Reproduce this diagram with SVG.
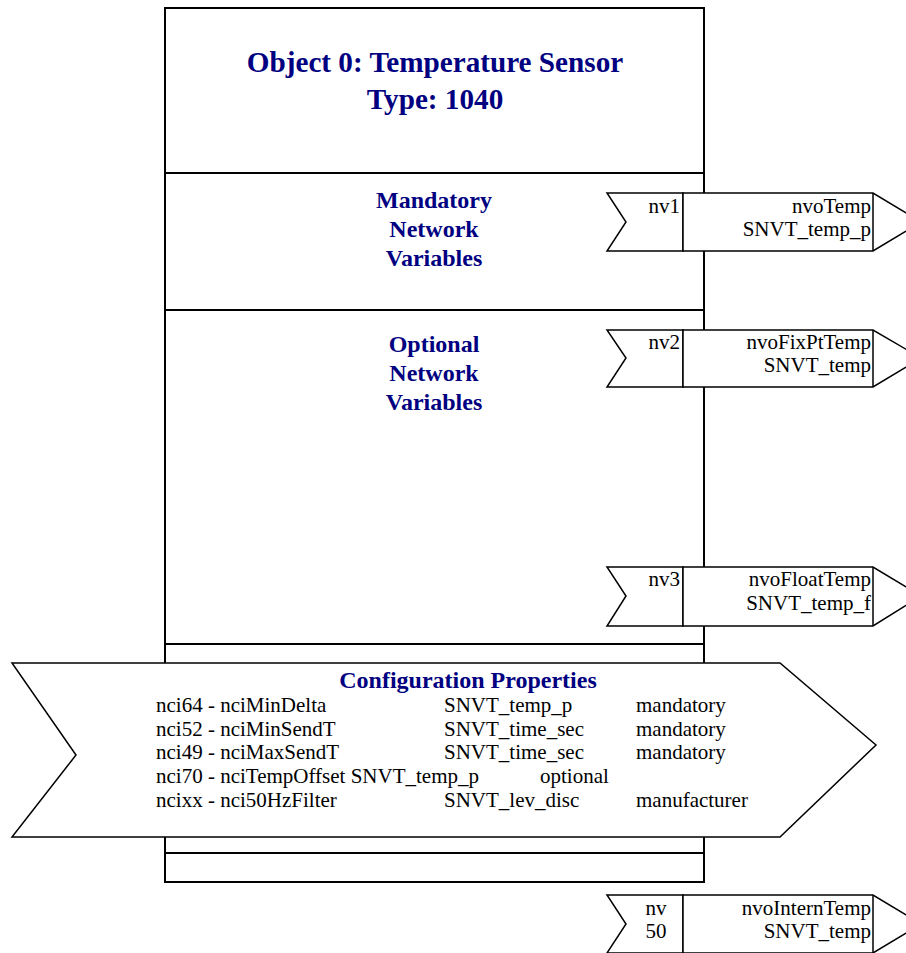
<svg xmlns="http://www.w3.org/2000/svg" width="906" height="953" viewBox="0 0 906 953">
<style>
.ln{fill:none;stroke:#000;stroke-width:2}
.sh{fill:#fff;stroke:#000;stroke-width:1.5}
.hd{font-family:"Liberation Serif","Times New Roman",serif;font-weight:bold;fill:#000080;text-anchor:middle}
.tx{font-family:"Liberation Serif","Times New Roman",serif;font-size:21px;fill:#000}
.r{text-anchor:end}
.c{text-anchor:middle}
</style>
<rect width="906" height="953" fill="#fff"/>
<g id="object">
  <rect class="ln" x="165" y="8" width="539" height="874" fill="#fff"/>
  <line class="ln" x1="165" y1="173" x2="704" y2="173"/>
  <line class="ln" x1="165" y1="310" x2="704" y2="310"/>
  <line class="ln" x1="165" y1="644" x2="704" y2="644"/>
  <line class="ln" x1="165" y1="853" x2="704" y2="853"/>
  <text class="hd" font-size="29.2" x="435" y="72">Object 0: Temperature Sensor</text>
  <text class="hd" font-size="29.2" x="435" y="109">Type: 1040</text>
  <text class="hd" font-size="24" x="434" y="208">Mandatory</text>
  <text class="hd" font-size="24" x="434" y="237">Network</text>
  <text class="hd" font-size="24" x="434" y="266">Variables</text>
  <text class="hd" font-size="24" x="434" y="352">Optional</text>
  <text class="hd" font-size="24" x="434" y="381">Network</text>
  <text class="hd" font-size="24" x="434" y="410">Variables</text>
</g>
<g id="config">
  <polygon class="sh" points="12,663 780,663 876,745 780,837 12,837 76,755"/>
  <text class="hd" font-size="24" x="468" y="688">Configuration Properties</text>
  <text class="tx" x="156" y="712">nci64 - nciMinDelta</text>
  <text class="tx" x="444" y="712">SNVT_temp_p</text>
  <text class="tx" x="636" y="712">mandatory</text>
  <text class="tx" x="156" y="736">nci52 - nciMinSendT</text>
  <text class="tx" x="444" y="736">SNVT_time_sec</text>
  <text class="tx" x="636" y="736">mandatory</text>
  <text class="tx" x="156" y="759">nci49 - nciMaxSendT</text>
  <text class="tx" x="444" y="759">SNVT_time_sec</text>
  <text class="tx" x="636" y="759">mandatory</text>
  <text class="tx" x="156" y="783">nci70 - nciTempOffset SNVT_temp_p</text>
  <text class="tx" x="540" y="783">optional</text>
  <text class="tx" x="156" y="807">ncixx - nci50HzFilter</text>
  <text class="tx" x="444" y="807">SNVT_lev_disc</text>
  <text class="tx" x="636" y="807">manufacturer</text>
</g>
<g id="nv1">
  <polygon class="sh" points="607,193 683,193 683,251 607,251 626,222"/>
  <polygon class="sh" points="683,193 873,193 921,222 873,251 683,251"/>
  <line class="sh" x1="873" y1="193" x2="873" y2="251"/>
  <text class="tx r" x="680" y="213">nv1</text>
  <text class="tx r" x="871" y="213">nvoTemp</text>
  <text class="tx r" x="871" y="236">SNVT_temp_p</text>
</g>
<g id="nv2">
  <polygon class="sh" points="607,330 683,330 683,387 607,387 626,358"/>
  <polygon class="sh" points="683,330 873,330 921,358 873,387 683,387"/>
  <line class="sh" x1="873" y1="330" x2="873" y2="387"/>
  <text class="tx r" x="680" y="349">nv2</text>
  <text class="tx r" x="871" y="349">nvoFixPtTemp</text>
  <text class="tx r" x="871" y="372">SNVT_temp</text>
</g>
<g id="nv3">
  <polygon class="sh" points="607,567 683,567 683,626 607,626 626,596"/>
  <polygon class="sh" points="683,567 873,567 921,596 873,626 683,626"/>
  <line class="sh" x1="873" y1="567" x2="873" y2="626"/>
  <text class="tx r" x="680" y="586">nv3</text>
  <text class="tx r" x="871" y="586">nvoFloatTemp</text>
  <text class="tx r" x="871" y="610">SNVT_temp_f</text>
</g>
<g id="nv50">
  <polygon class="sh" points="607,895 683,895 683,953 607,953 626,924"/>
  <polygon class="sh" points="683,895 873,895 921,924 873,953 683,953"/>
  <line class="sh" x1="873" y1="895" x2="873" y2="953"/>
  <text class="tx c" x="656" y="915">nv</text>
  <text class="tx c" x="656" y="938">50</text>
  <text class="tx r" x="871" y="915">nvoInternTemp</text>
  <text class="tx r" x="871" y="938">SNVT_temp</text>
</g>
<g id="connectors"></g>
</svg>
